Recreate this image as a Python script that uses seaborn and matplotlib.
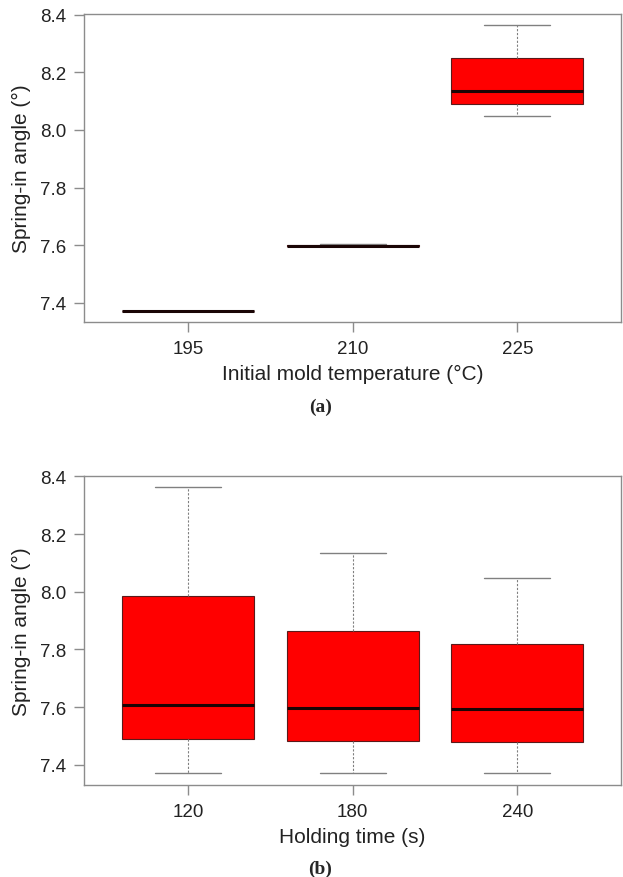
import numpy as np
import pandas as pd
import matplotlib
matplotlib.use("Agg")
import matplotlib.pyplot as plt
import seaborn as sns

# ---- data (five-number summaries) ----
temp_levels = ["195", "210", "225"]
temp_min = [7.372, 7.596, 8.047]
temp_q1 = [7.372, 7.597, 8.091]
temp_med = [7.372, 7.598, 8.137]
temp_q3 = [7.372, 7.600, 8.250]
temp_max = [7.372, 7.603, 8.365]

time_levels = ["120", "180", "240"]
time_min = [7.372, 7.372, 7.372]
time_q1 = [7.490, 7.483, 7.481]
time_med = [7.606, 7.596, 7.592]
time_q3 = [7.987, 7.865, 7.820]
time_max = [8.364, 8.136, 8.047]

yticks = [7.4, 7.6, 7.8, 8.0, 8.2, 8.4]


def to_frame(levels, mn, q1, md, q3, mx):
    rows = []
    for i, lv in enumerate(levels):
        for v in (mn[i], q1[i], md[i], q3[i], mx[i]):
            rows.append({"level": lv, "angle": v})
    return pd.DataFrame(rows)


df_a = to_frame(temp_levels, temp_min, temp_q1, temp_med, temp_q3, temp_max)
df_b = to_frame(time_levels, time_min, time_q1, time_med, time_q3, time_max)

sns.set_style("white")
plt.rcParams["font.family"] = ["Liberation Sans", "DejaVu Sans"]

fig = plt.figure(figsize=(6.23, 8.78), dpi=100)
ax_a = fig.add_axes([0.135, 0.632, 0.862, 0.351])
ax_b = fig.add_axes([0.135, 0.105, 0.862, 0.352])

spine_col = "#8c8c8c"

for ax, df, levels, xlabel, ylim in (
    (ax_a, df_a, temp_levels, "Initial mold temperature (°C)", (7.333, 8.403)),
    (ax_b, df_b, time_levels, "Holding time (s)", (7.331, 8.402)),
):
    sns.boxplot(
        data=df, x="level", y="angle", order=levels, ax=ax,
        whis=(0, 100), width=0.8, color="#ff0000", saturation=1,
        showfliers=False,
        boxprops=dict(facecolor="#ff0000", edgecolor="#5a1a1a", linewidth=0.8),
        medianprops=dict(color="#1a0505", linewidth=2.2),
        whiskerprops=dict(color="#808080", linewidth=0.8, linestyle=(0, (2, 1.5))),
        capprops=dict(color="#808080", linewidth=1.0),
    )
    ax.set_xlim(-0.63, 2.63)
    ax.set_ylim(*ylim)
    ax.set_yticks(yticks)
    ax.set_yticklabels([f"{t:.1f}" for t in yticks])
    ax.set_xlabel(xlabel, fontsize=15, labelpad=5, color="#222222")
    ax.set_ylabel("Spring-in angle (°)", fontsize=15, labelpad=6, color="#222222")
    ax.tick_params(axis="both", which="major", direction="out", length=7,
                   width=1, color=spine_col, labelsize=13.5, pad=6,
                   labelcolor="#222222", left=True, bottom=True)
    for s in ax.spines.values():
        s.set_visible(True)
        s.set_color(spine_col)
        s.set_linewidth(1.0)

fig.text(0.514, 1 - 407 / 878, "(a)", ha="center", va="center",
         fontsize=14, fontweight="bold", family="Liberation Serif")
fig.text(0.514, 1 - 869 / 878, "(b)", ha="center", va="center",
         fontsize=14, fontweight="bold", family="Liberation Serif")

fig.savefig("out.png", dpi=100)
